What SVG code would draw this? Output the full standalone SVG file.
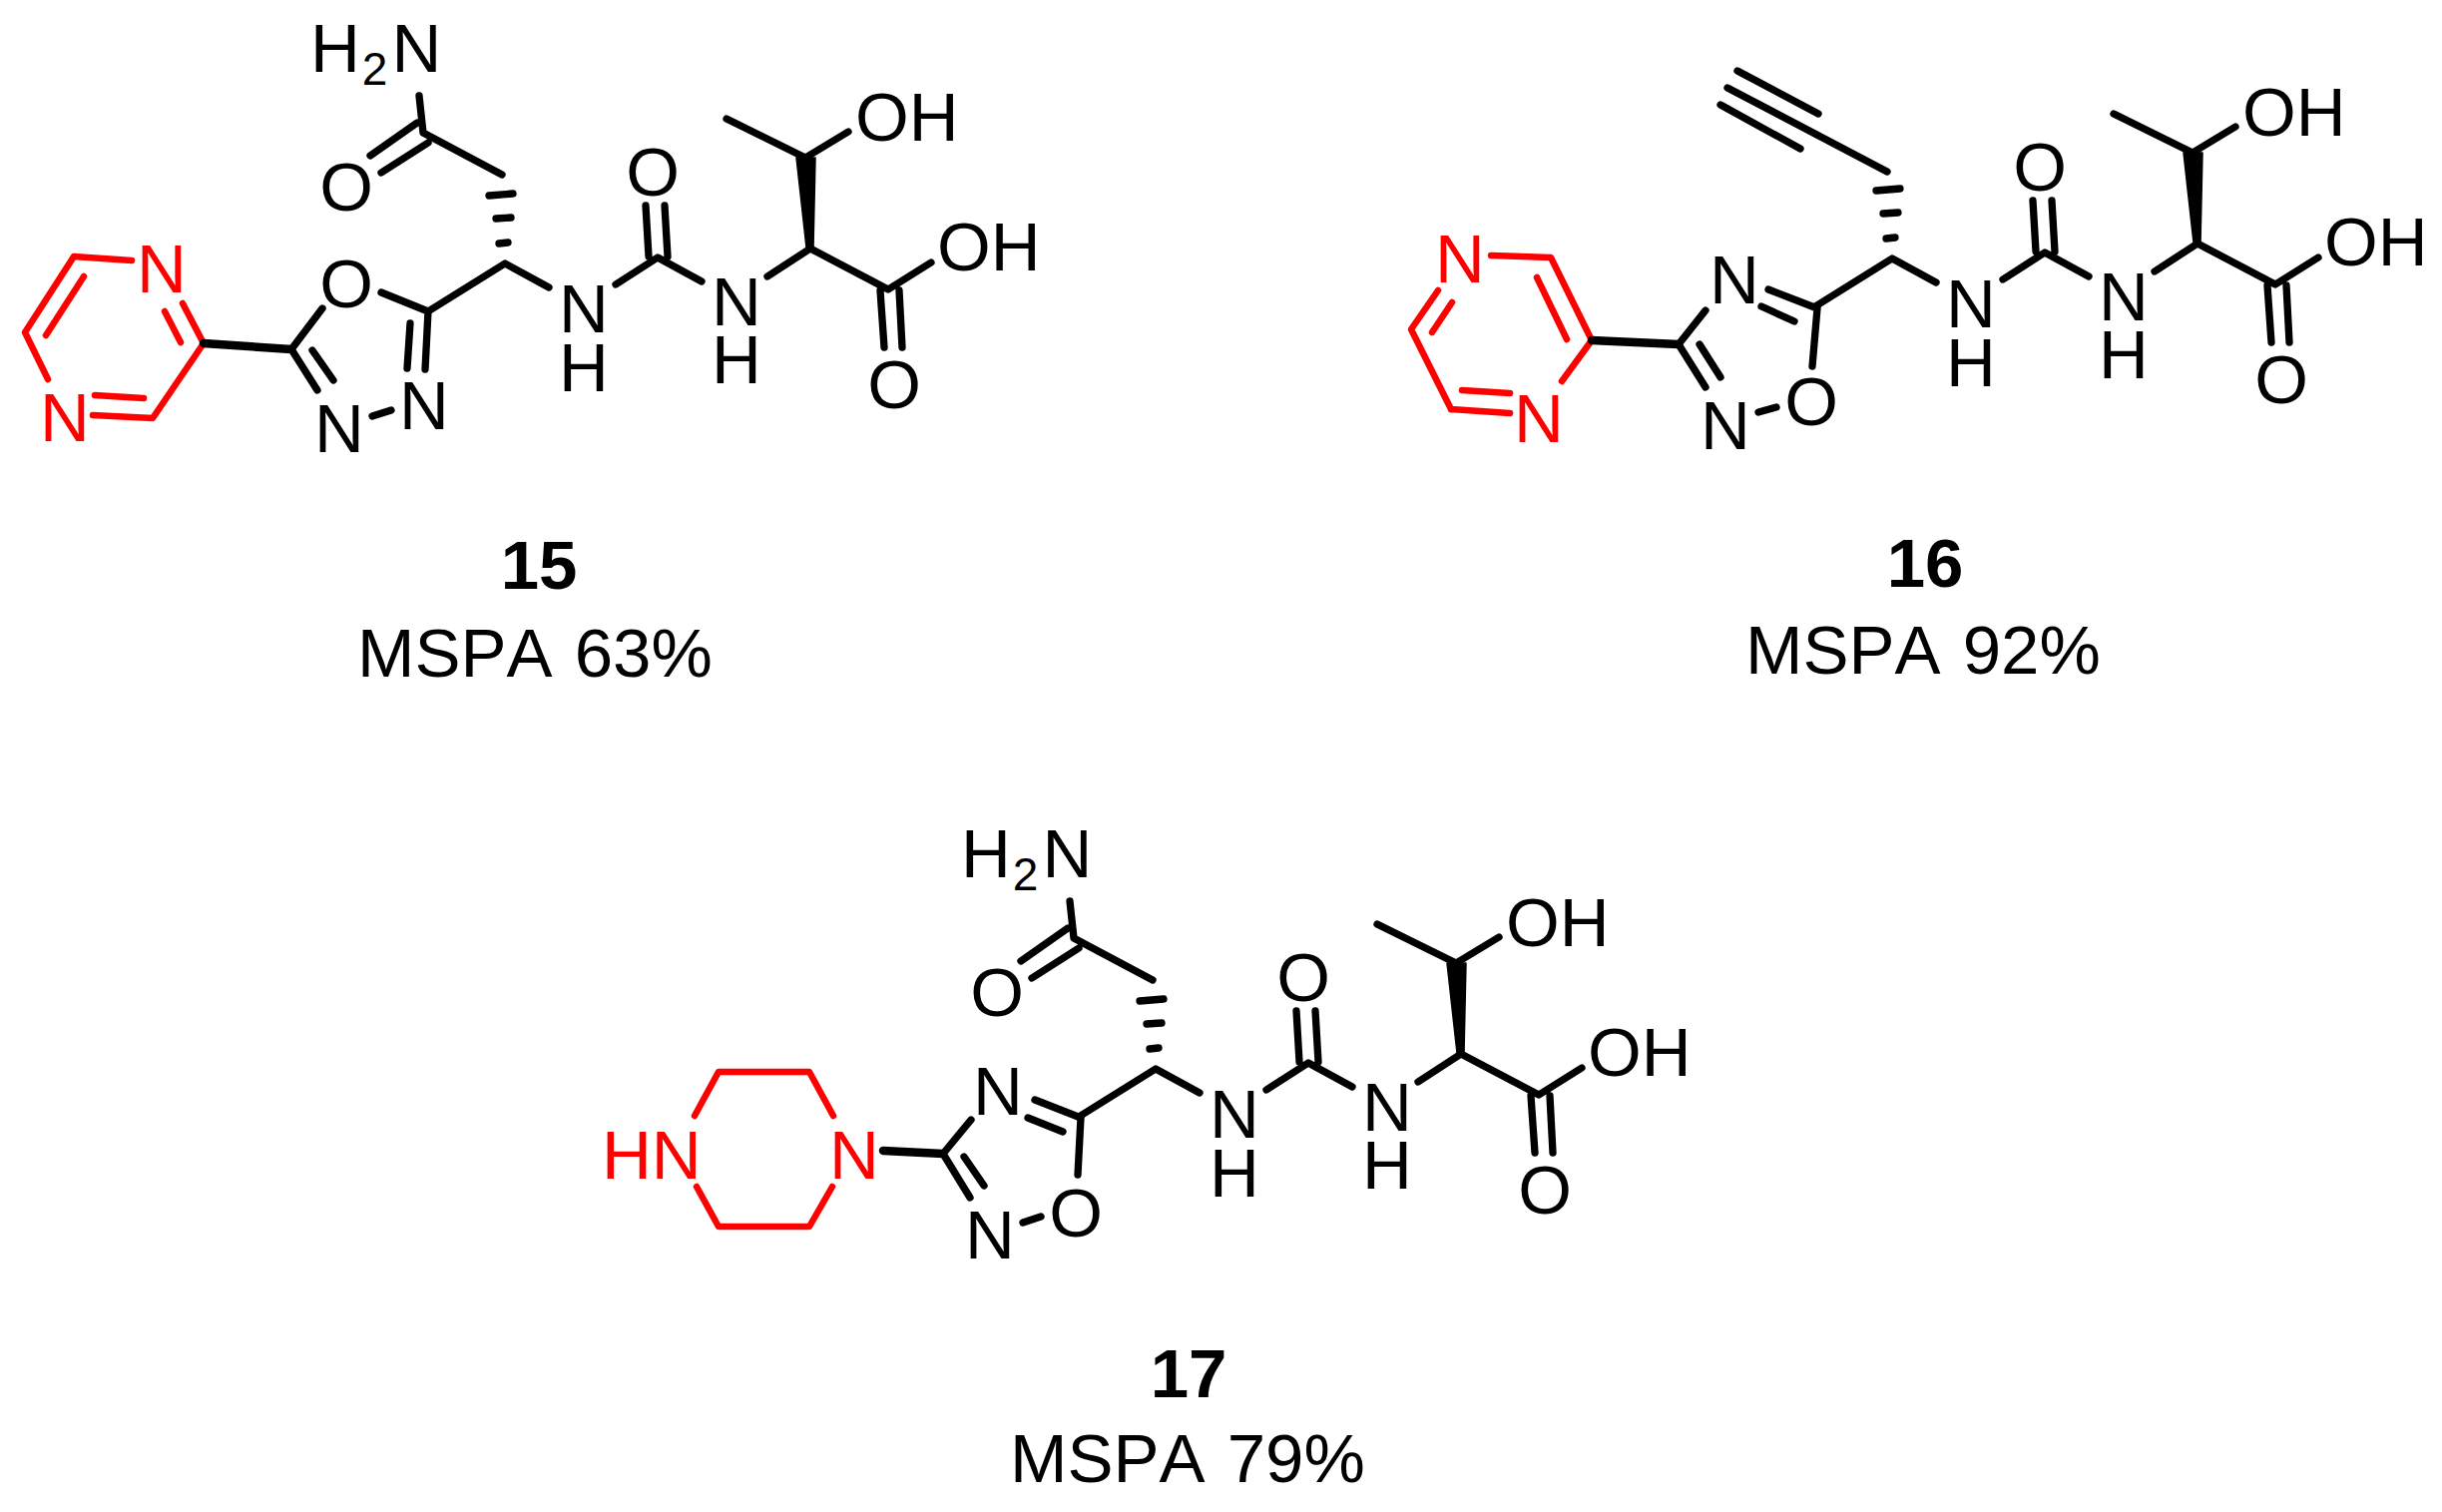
<svg xmlns="http://www.w3.org/2000/svg" width="2447" height="1515" viewBox="0 0 2447 1515">
<style>
text{font-family:"Liberation Sans",Arial,sans-serif;font-size:69px;fill:#000;text-anchor:middle}
.l{text-anchor:start}
.sub{font-size:46px}
.num{font-weight:bold;font-size:69px}
.cap{font-size:69px;text-anchor:start;word-spacing:3px;font-kerning:none}
.r{fill:#f00}
.b{fill:none;stroke:#000;stroke-width:7.3;stroke-linecap:round;stroke-linejoin:round}
.rb{fill:none;stroke:#f00;stroke-width:6.5;stroke-linecap:round;stroke-linejoin:round}
.t{stroke-width:8.5}
</style>
<rect width="2447" height="1515" fill="#fff"/>
<defs>
<g id="core">
<path class="b" d="M429 312L506 264L550 288M617 285L659 258L703 282M650 257L647 206M669 257L666 206M769 277L812 249L890 290L933 263M882 291L886 348M901 291L904 348M807 158L728 119M807 158L850 132"/>
<path d="M798 158L817 158L815 248L808 248Z" fill="#000" stroke="#000" stroke-width="1.5" stroke-linejoin="round"/>
<path class="b" d="M490 196L514 194M497 219L512 218M500 244L509 243"/>
</g>
</defs>
<g id="compound-15">
<g id="ring-15">
<path class="rb" d="M132 261L74 257L25 333L48 380M84 277L46 336M93 416L153 419L204 344L183 304M95 396L144 399M181 343L165 312"/>
<text class="r" x="162" y="293">N</text>
<text class="r" x="65" y="442">N</text>
</g>
<g id="links-15">
<path class="b t" d="M204 344L292 350"/>
<path class="b" d="M292 350L323 309M382 293L429 312L426 370M411 324L408 369M292 350L318 391M313 351L334 381M373 417L392 411M503 175L424 133L420 96M371 156L418 123M382 173L429 143"/>
</g>
<text x="347" y="308">O</text>
<text x="425" y="430">N</text>
<text x="340" y="453">N</text>
<text class="l" x="311" y="72">H<tspan class="sub" dy="13" dx="2">2</tspan><tspan dy="-13" dx="4">N</tspan></text>
<text x="347" y="211">O</text>
<use href="#core"/>
<text x="585" y="333">N<tspan x="585" dy="59">H</tspan></text>
<text x="654" y="196">O</text>
<text x="738" y="326">N<tspan x="738" dy="58">H</tspan></text>
<text class="l" x="857" y="141">OH</text>
<text class="l" x="939" y="271">OH</text>
<text x="896" y="409">O</text>
<text class="num" x="540" y="590">15</text>
<text class="cap" x="358" y="678">MSPA 63%</text>
</g>
<g id="compound-16">
<g id="ring-16">
<path class="rb" d="M1494 256L1554 258L1595 341L1565 382M1540 278L1570 340M1454 410L1513 414M1465 391L1513 394M1454 410L1414 330L1441 291M1435 333L1455 303"/>
<text class="r" x="1463" y="283">N</text>
<text class="r" x="1542" y="443">N</text>
</g>
<g id="links-16">
<path class="b t" d="M1595 341L1682 345"/>
<path class="b" d="M1682 345L1709 311M1821 309L1772 290M1798 322L1765 307M1821 309L1816 367M1682 345L1709 388M1703 345L1724 378M1762 413L1780 408M1891 172L1731 88M1741 71L1822 114M1724 105L1804 149"/>
</g>
<text x="1738" y="304">N</text>
<text x="1815" y="426">O</text>
<text x="1729" y="450">N</text>
<g transform="translate(1390 -5)">
<use href="#core"/>
<text x="585" y="333">N<tspan x="585" dy="59">H</tspan></text>
<text x="654" y="196">O</text>
<text x="738" y="326">N<tspan x="738" dy="58">H</tspan></text>
<text class="l" x="857" y="141">OH</text>
<text class="l" x="939" y="271">OH</text>
<text x="896" y="409">O</text>
</g>
<text class="num" x="1929" y="588">16</text>
<text class="cap" x="1749" y="675">MSPA 92%</text>
</g>
<g id="compound-17">
<g id="ring-17">
<path class="rb" d="M835 1118L811 1074L720 1074L696 1118M698 1189L720 1229L811 1229L834 1189"/>
<text class="r" x="856" y="1181">N</text>
<text class="r l" x="603" y="1181">HN</text>
</g>
<g id="links-17">
<path class="b t" d="M885 1153L945 1156"/>
<path class="b" d="M945 1156L973 1122M1083 1120L1037 1102M1065 1134L1030 1120M1083 1120L1080 1177M945 1156L972 1200M966 1159L986 1188M1025 1225L1043 1219"/>
</g>
<text x="1000" y="1117">N</text>
<text x="1078" y="1239">O</text>
<text x="992" y="1261">N</text>
<g transform="translate(652 807)">
<use href="#core"/>
<path class="b" d="M503 175L424 133L420 96M371 156L418 123M382 173L429 143"/>
<text class="l" x="311" y="72">H<tspan class="sub" dy="13" dx="2">2</tspan><tspan dy="-13" dx="4">N</tspan></text>
<text x="347" y="211">O</text>
<text x="585" y="333">N<tspan x="585" dy="59">H</tspan></text>
<text x="654" y="196">O</text>
<text x="738" y="326">N<tspan x="738" dy="58">H</tspan></text>
<text class="l" x="857" y="141">OH</text>
<text class="l" x="939" y="271">OH</text>
<text x="896" y="409">O</text>
</g>
<text class="num" x="1191" y="1400">17</text>
<text class="cap" x="1012" y="1485">MSPA 79%</text>
</g>
</svg>
